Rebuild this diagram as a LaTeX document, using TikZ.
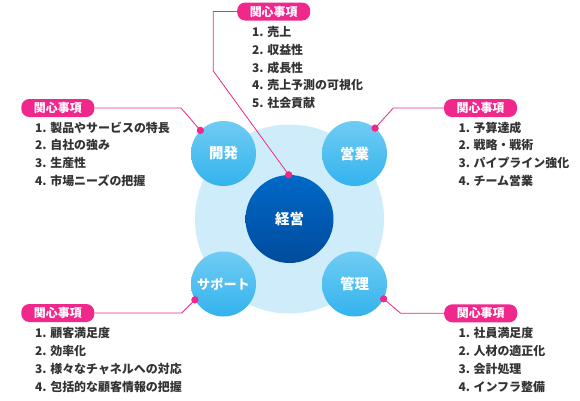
\documentclass[tikz,border=0pt]{standalone}
\usepackage{fontspec}
\newfontfamily\jp{Noto Sans CJK JP}
\definecolor{mypink}{HTML}{F0288C}
\definecolor{lightc}{HTML}{CFECFB}
\definecolor{stop}{HTML}{70CCF3}
\definecolor{sbot}{HTML}{33B3EE}
\definecolor{dtop}{HTML}{0069C7}
\definecolor{dbot}{HTML}{004B9D}
\definecolor{itemc}{HTML}{333333}
\tikzset{
  item/.style={anchor=west, inner sep=0pt, text=itemc, font=\jp\bfseries\fontsize{12}{12}\selectfont},
  kbox/.style={fill=mypink, rounded corners=8bp, minimum width=73bp, minimum height=18bp, inner sep=0pt, text=white, font=\jp\bfseries\fontsize{12}{12}\selectfont},
  small/.style={circle, top color=stop, bottom color=sbot, minimum size=65bp, inner sep=0pt, text=white, font=\jp\bfseries\fontsize{14.5}{14.5}\selectfont},
  pdot/.style={circle, fill=mypink, minimum size=7bp, inner sep=0pt},
  pline/.style={draw=mypink, line width=0.8bp}
}
\begin{document}
\begin{tikzpicture}[x=1bp,y=-1bp]
\useasboundingbox[fill=white] (0,0) rectangle (580,400);
% circles
\node[circle, fill=lightc, minimum size=189bp, inner sep=0pt] (bg) at (289.5,219) {};
\node[small] (kaihatsu) at (223.5,153.5) {開発};
\node[small] (eigyo) at (354.5,153.5) {営業};
\node[small, font=\jp\bfseries\fontsize{13.2}{13.2}\selectfont] (support) at (223.5,284) {サポート};
\node[small] (kanri) at (354.5,284) {管理};
\node[circle, top color=dtop, bottom color=dbot, minimum size=88bp, inner sep=0pt, text=white, font=\jp\bfseries\fontsize{14.5}{14.5}\selectfont] (keiei) at (289.5,219) {経営};
% boxes
\node[kbox] (tbox) at (273.7,11.5) {関心事項};
\node[kbox] (lbox) at (57.8,108) {関心事項};
\node[kbox] (rbox) at (480.5,108) {関心事項};
\node[kbox] (blbox) at (57.8,313) {関心事項};
\node[kbox] (brbox) at (480.7,313.3) {関心事項};
% dots
\node[pdot] (dkei) at (keiei.91.5) {};
\node[pdot] (dkai) at (kaihatsu.135) {};
\node[pdot] (deig) at (eigyo.51) {};
\node[pdot] (dsup) at (support.209) {};
\node[pdot] (dkan) at (kanri.333) {};
% bends
\coordinate (tb1) at (213.3,11.5);
\coordinate (tb2) at (213.3,71);
\coordinate (lb) at (181,108);
\coordinate (rb) at (393.3,108);
\coordinate (blb) at (181.7,313);
\coordinate (brb) at (400.7,313.3);
\draw[pline] (tbox.west) -- (tb1) -- (tb2) -- (dkei.center);
\draw[pline] (lbox.east) -- (lb) -- (dkai.center);
\draw[pline] (rbox.west) -- (rb) -- (deig.center);
\draw[pline] (blbox.east) -- (blb) -- (dsup.center);
\draw[pline] (brbox.west) -- (brb) -- (dkan.center);
\node[pdot] at (dkei) {};
\node[pdot] at (dkai) {};
\node[pdot] at (deig) {};
\node[pdot] at (dsup) {};
\node[pdot] at (dkan) {};
% items
\foreach \t [count=\i] in {売上,収益性,成長性,売上予測の可視化,社会貢献}
  \node[item] (t\i) at (252,{32+17.75*(\i-1)}) {\i. \t};
\foreach \t [count=\i] in {製品やサービスの特長,自社の強み,生産性,市場ニーズの把握}
  \node[item] (l\i) at (35,{127.5+17.8*(\i-1)}) {\i. \t};
\foreach \t [count=\i] in {予算達成,戦略・戦術,パイプライン強化,チーム営業}
  \node[item] (r\i) at (458.3,{127.5+17.8*(\i-1)}) {\i. \t};
\foreach \t [count=\i] in {顧客満足度,効率化,様々なチャネルへの対応,包括的な顧客情報の把握}
  \node[item] (bl\i) at (35,{333.3+17.8*(\i-1)}) {\i. \t};
\foreach \t [count=\i] in {社員満足度,人材の適正化,会計処理,インフラ整備}
  \node[item] (br\i) at (458.3,{333.3+17.8*(\i-1)}) {\i. \t};
\end{tikzpicture}
\end{document}
